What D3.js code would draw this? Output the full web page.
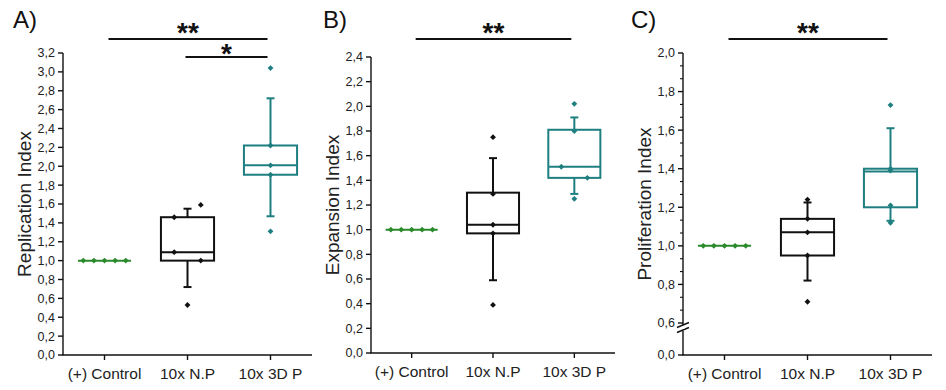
<!DOCTYPE html>
<html><head><meta charset="utf-8">
<script src="https://cdn.jsdelivr.net/npm/d3@7"></script>
<style>
html,body{margin:0;padding:0;background:#fff;}
svg{display:block;font-family:"Liberation Sans",Arial,sans-serif;}
</style></head>
<body><svg id="chart" width="946" height="390"></svg>
<script>
// ---------- data ----------
const categories = ["(+) Control", "10x N.P", "10x 3D P"];
const panelLabels = ["A)", "B)", "C)"];
const yTitles = ["Replication Index", "Expansion Index", "Proliferation Index"];

// box stats: [lower whisker, Q1, median, Q3, upper whisker]
const controlBox = [1.0, 1.0, 1.0, 1.0, 1.0];
const boxA_NP = [0.72, 1.00, 1.09, 1.46, 1.55];
const boxA_3DP = [1.47, 1.91, 2.01, 2.22, 2.72];
const boxB_NP = [0.59, 0.97, 1.04, 1.30, 1.58];
const boxB_3DP = [1.29, 1.42, 1.51, 1.81, 1.91];
const boxC_NP = [0.82, 0.95, 1.07, 1.14, 1.225];
const boxC_3DP = [1.13, 1.20, 1.385, 1.40, 1.61];

// individual points
const pointsControl = [1.0, 1.0, 1.0, 1.0, 1.0];
const pointsA_NP = [1.46, 1.09, 1.00, 1.59, 0.53];
const pointsA_3DP = [3.04, 2.22, 2.01, 1.91, 1.31];
const pointsB_NP = [1.75, 1.29, 1.04, 0.97, 0.39];
const pointsB_3DP = [2.02, 1.80, 1.51, 1.42, 1.25];
const pointsC_NP = [1.24, 1.14, 1.07, 0.95, 0.71];
const pointsC_3DP = [1.73, 1.40, 1.39, 1.21, 1.12];

// y tick labels
const ticksA = [0, 0.2, 0.4, 0.6, 0.8, 1.0, 1.2, 1.4, 1.6, 1.8, 2.0, 2.2, 2.4, 2.6, 2.8, 3.0, 3.2];
const ticksB = [0, 0.2, 0.4, 0.6, 0.8, 1.0, 1.2, 1.4, 1.6, 1.8, 2.0, 2.2, 2.4];
const ticksC = [0, 0.6, 0.8, 1.0, 1.2, 1.4, 1.6, 1.8, 2.0];

// significance: [fromCategory, toCategory, label]
const sigA = [[0, 2, "**"], [1, 2, "*"]];
const sigB = [[0, 2, "**"]];
const sigC = [[0, 2, "**"]];

// ---------- styling / layout ----------
const colors = ["#2b8a2b", "#111111", "#1f7f80"];
const jitterA_NP = [-1, -1, 1, 1, 0];
const jitterB_3DP = [0, 0, -1, 1, 0];
const jitterNone = [0, 0, 0, 0, 0];

const panels = [
  {label: panelLabels[0], title: yTitles[0], x0: 63, x1: 312, yTop: 53, yBot: 355, ymax: 3.2, ticks: ticksA,
   boxes: [controlBox, boxA_NP, boxA_3DP], points: [pointsControl, pointsA_NP, pointsA_3DP],
   jitter: [null, jitterA_NP, jitterNone], sig: sigA, labelX: 13},
  {label: panelLabels[1], title: yTitles[1], x0: 371, x1: 615, yTop: 57, yBot: 353, ymax: 2.4, ticks: ticksB,
   boxes: [controlBox, boxB_NP, boxB_3DP], points: [pointsControl, pointsB_NP, pointsB_3DP],
   jitter: [null, jitterNone, jitterB_3DP], sig: sigB, labelX: 323},
  {label: panelLabels[2], title: yTitles[2], x0: 683, x1: 932, yTop: 53, yBot: 355, ymax: 2.0, ticks: ticksC,
   boxes: [controlBox, boxC_NP, boxC_3DP], points: [pointsControl, pointsC_NP, pointsC_3DP],
   jitter: [null, jitterNone, jitterNone], sig: sigC, labelX: 631, brk: {lo: 0.6, y: 323}}
];

const svg = d3.select("#chart");
const fmt = v => d3.format(".1f")(v).replace(".", ",");
const diamond = d3.symbol(d3.symbolSquare, 17)();

panels.forEach((p, pi) => {
  const g = svg.append("g");
  const x = d3.scaleBand().domain(categories).range([p.x0, p.x1]).padding(0);
  const bw = x.bandwidth();
  const cx = c => x(c) + bw / 2;
  let y;
  if (p.brk) {
    const yUp = d3.scaleLinear().domain([p.brk.lo, p.ymax]).range([p.brk.y, p.yTop]);
    y = v => v >= p.brk.lo ? yUp(v) : p.yBot;
  } else {
    y = d3.scaleLinear().domain([0, p.ymax]).range([p.yBot, p.yTop]);
  }

  // y axis
  const ax = g.append("g").attr("stroke", "#111").attr("stroke-width", 1.4);
  if (p.brk) {
    ax.append("line").attr("x1", p.x0).attr("x2", p.x0).attr("y1", p.yBot).attr("y2", p.brk.y + 8);
    ax.append("line").attr("x1", p.x0).attr("x2", p.x0).attr("y1", p.brk.y + 2).attr("y2", p.yTop);
    [p.brk.y + 2, p.brk.y + 7].forEach(yy => {
      ax.append("line").attr("x1", p.x0 - 6).attr("x2", p.x0 + 6)
        .attr("y1", yy + 2.5).attr("y2", yy - 2.5);
    });
    g.append("rect").attr("x", p.x0 - 1.5).attr("y", p.brk.y + 3.5).attr("width", 3).attr("height", 2.5).attr("fill", "#fff");
    for (let v = p.brk.lo; v < p.ymax - 1e-6; v += 0.2) {
      [1, 2].forEach(k => {
        const vv = v + k * 0.2 / 3;
        ax.append("line").attr("x1", p.x0 - 3).attr("x2", p.x0).attr("y1", y(vv)).attr("y2", y(vv)).attr("stroke-width", 1.1);
      });
    }
  } else {
    ax.append("line").attr("x1", p.x0).attr("x2", p.x0).attr("y1", p.yBot).attr("y2", p.yTop);
  }
  p.ticks.forEach(t => {
    const yy = t === 0 ? p.yBot : y(t);
    ax.append("line").attr("x1", p.x0 - 5).attr("x2", p.x0).attr("y1", yy).attr("y2", yy);
    g.append("text").attr("x", p.x0 - 8).attr("y", yy).attr("dy", "0.35em")
      .attr("text-anchor", "end").attr("font-size", 12.5).attr("fill", "#222").text(fmt(t));
  });

  // x axis
  ax.append("line").attr("x1", p.x0 - 0.7).attr("x2", p.x1).attr("y1", p.yBot).attr("y2", p.yBot);
  categories.forEach(c => {
    ax.append("line").attr("x1", cx(c)).attr("x2", cx(c)).attr("y1", p.yBot).attr("y2", p.yBot + 5);
    g.append("text").attr("x", cx(c)).attr("y", p.yBot + 24).attr("text-anchor", "middle")
      .attr("font-size", 15.5).attr("fill", "#222").text(c);
  });

  // y title
  g.append("text").attr("transform", `translate(${p.x0 - 32},${(p.yTop + p.yBot) / 2}) rotate(-90)`)
    .attr("text-anchor", "middle").attr("font-size", 19).attr("fill", "#222").text(p.title);

  // panel label
  g.append("text").attr("x", p.labelX).attr("y", 28).attr("font-size", 24).attr("fill", "#111").text(p.label);

  // boxes
  const boxW = bw * 0.64;
  categories.forEach((c, ci) => {
    const b = p.boxes[ci];
    const col = colors[ci];
    const c0 = cx(c);
    const bg = g.append("g").attr("stroke", col).attr("stroke-width", 2).attr("fill", "none");
    if (ci === 0) {
      bg.append("line").attr("x1", c0 - boxW / 2).attr("x2", c0 + boxW / 2).attr("y1", y(b[2])).attr("y2", y(b[2]));
      p.points[ci].forEach((v, i) => {
        g.append("path").attr("d", diamond)
          .attr("transform", `translate(${c0 + (i - 2) * boxW * 0.2},${y(v)}) rotate(45)`).attr("fill", col);
      });
      return;
    }
    bg.append("line").attr("x1", c0).attr("x2", c0).attr("y1", y(b[3])).attr("y2", y(b[4]));
    bg.append("line").attr("x1", c0).attr("x2", c0).attr("y1", y(b[1])).attr("y2", y(b[0]));
    [b[0], b[4]].forEach(v => bg.append("line").attr("x1", c0 - 4).attr("x2", c0 + 4).attr("y1", y(v)).attr("y2", y(v)));
    bg.append("rect").attr("x", c0 - boxW / 2).attr("y", y(b[3])).attr("width", boxW).attr("height", y(b[1]) - y(b[3]));
    bg.append("line").attr("x1", c0 - boxW / 2).attr("x2", c0 + boxW / 2).attr("y1", y(b[2])).attr("y2", y(b[2]));
    p.points[ci].forEach((v, i) => {
      g.append("path").attr("d", diamond)
        .attr("transform", `translate(${c0 + p.jitter[ci][i] * boxW * 0.25},${y(v)}) rotate(45)`).attr("fill", col);
    });
  });

  // significance
  p.sig.forEach((s, si) => {
    const yy = si === 0 ? 39 : 57;
    const xa = cx(categories[s[0]]) + (s[0] === 0 ? 4 : -2);
    const xb = cx(categories[s[1]]) - 3;
    g.append("line").attr("x1", xa).attr("x2", xb).attr("y1", yy).attr("y2", yy)
      .attr("stroke", "#111").attr("stroke-width", 2);
    g.append("text").attr("x", (xa + xb) / 2).attr("y", si === 0 ? yy + 3 : yy + 6).attr("text-anchor", "middle")
      .attr("font-size", 28).attr("font-weight", "bold").attr("fill", "#111").text(s[2]);
  });
});
</script></body></html>
